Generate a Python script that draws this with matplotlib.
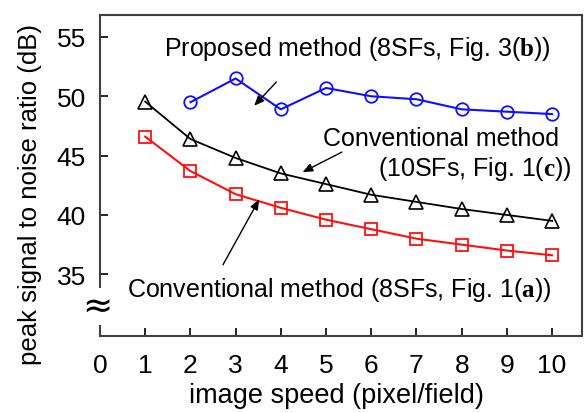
import numpy as np
import matplotlib
matplotlib.use("Agg")
import matplotlib.pyplot as plt

plt.rcParams["font.family"] = ["Liberation Sans", "DejaVu Sans"]
plt.rcParams["mathtext.fontset"] = "custom"
plt.rcParams["mathtext.rm"] = "Liberation Serif"
plt.rcParams["mathtext.bf"] = "Liberation Serif:bold"

# данные
speed_prop = [2, 3, 4, 5, 6, 7, 8, 9, 10]
psnr_prop = [49.5, 51.5, 48.9, 50.7, 50.0, 49.75, 48.9, 48.7, 48.5]

speed_conv = [1, 2, 3, 4, 5, 6, 7, 8, 9, 10]
psnr_conv10 = [49.55, 46.4, 44.8, 43.5, 42.6, 41.7, 41.1, 40.5, 40.0, 39.5]
psnr_conv8 = [46.6, 43.7, 41.75, 40.6, 39.6, 38.8, 38.0, 37.5, 37.0, 36.6]

xticks = list(range(0, 11))
yticks = [35, 40, 45, 50, 55]

fig = plt.figure(figsize=(5.84, 4.14), dpi=100)
ax = fig.add_axes([0.1712, 0.186, 0.8253, 0.7754])

ax.plot(speed_prop, psnr_prop, color="#1010ff", lw=1.5, marker="o", ms=9,
        mfc="none", mew=1.3)
ax.plot(speed_conv, psnr_conv10, color="black", lw=1.3, marker="^", ms=9.5,
        mfc="none", mew=1.2)
ax.plot(speed_conv, psnr_conv8, color="#ff1010", lw=1.5, marker="s", ms=8.5,
        mfc="none", mew=1.3)

ax.set_xlim(0, 10.66)
ax.set_ylim(29.8, 56.85)
ax.set_xticks(xticks)
ax.set_yticks(yticks)
ax.tick_params(axis="both", direction="in", length=6, width=1.2, labelsize=19,
               colors="black")
ax.tick_params(axis="x", pad=12)
ax.tick_params(axis="y", pad=10)
for s in ax.spines.values():
    s.set_color("#404040")
    s.set_linewidth(1.5)

ax.set_xlabel("image speed (pixel/field)", fontsize=19.5)
ax.xaxis.set_label_coords(0.49, -0.143)
ax.set_ylabel("peak signal to noise ratio (dB)", fontsize=18.5)
ax.yaxis.set_label_coords(-0.12, 0.445)

fs = 18
arrow = dict(arrowstyle="-|>,head_length=0.6,head_width=0.25", color="black",
             lw=1.0, shrinkA=0, shrinkB=0)

ax.annotate("", xy=(3.41, 49.2), xytext=(3.9, 51.2), arrowprops=arrow)
ax.text(5.7, 54.1, r"Proposed method (8SFs, Fig. 3($\mathrm{\mathbf{b}}$))",
        fontsize=fs, ha="center", va="center")

ax.annotate("", xy=(4.48, 43.6), xytext=(5.35, 45.3), arrowprops=arrow)
ax.text(7.55, 46.5, "Conventional method", fontsize=fs, ha="center", va="center")
ax.text(8.3, 43.95, r"(10SFs, Fig. 1($\mathrm{\mathbf{c}}$))", fontsize=fs,
        ha="center", va="center")

ax.annotate("", xy=(3.52, 41.3), xytext=(2.72, 35.8), arrowprops=arrow)
ax.text(5.3, 33.8, r"Conventional method (8SFs, Fig. 1($\mathrm{\mathbf{a}}$))",
        fontsize=fs, ha="center", va="center")

# знак разрыва оси
ax.text(-0.05, 32.3, "≈", fontsize=26, ha="center", va="center",
        family="DejaVu Sans", clip_on=False,
        bbox=dict(facecolor="white", edgecolor="none", pad=1))

fig.savefig("out.png", dpi=100)
